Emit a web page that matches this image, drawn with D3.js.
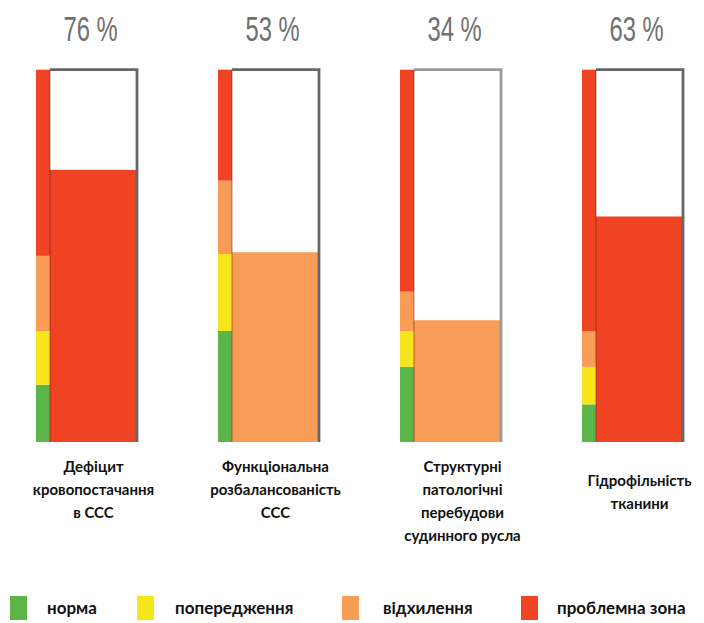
<!DOCTYPE html>
<html><head><meta charset="utf-8">
<script src="https://cdn.jsdelivr.net/npm/d3@7"></script>
<style>
html,body{margin:0;padding:0;background:#fff;}
svg{display:block;}
</style></head>
<body>
<svg id="chart" width="704" height="623"></svg>
<script>
// ---- data ----
const categories = ["Дефіцит кровопостачання в ССС", "Функціональна розбалансованість ССС", "Структурні патологічні перебудови судинного русла", "Гідрофільність тканини"];
const categoryLines = [["Дефіцит", "кровопостачання", "в ССС"], ["Функціональна", "розбалансованість", "ССС"], ["Структурні", "патологічні", "перебудови", "судинного русла"], ["Гідрофільність", "тканини"]];
const values = [76, 53, 34, 63];
// zone upper limits (percent) for each category scale
const normaTop = [16, 31, 21, 10.5];
const warningTop = [31, 52.5, 31, 21];
const deviationTop = [52, 73, 42, 31];
const zoneNames = ["норма", "попередження", "відхилення", "проблемна зона"];
const zoneColors = ["#5cb548", "#f6e51d", "#f89c56", "#ef4324"];
const scaleMax = 104;

const svg = d3.select("#chart");
const y = d3.scaleLinear().domain([0, 100]).range([442, 84]);
const x = d3.scaleBand().domain(categories).range([36, 36 + 182 * 4]).padding(0);
const stripW = 14, boxW = 87;

const g = svg.selectAll("g.gauge").data(categories).join("g").attr("class", "gauge")
  .attr("transform", d => `translate(${x(d)},0)`);

// zone strips
g.each(function(d, i) {
  const bounds = [0, normaTop[i], warningTop[i], deviationTop[i], scaleMax];
  const segs = zoneColors.map((c, k) => ({c, lo: bounds[k], hi: bounds[k + 1]}));
  d3.select(this).selectAll("rect.zone").data(segs).join("rect").attr("class", "zone")
    .attr("x", 0).attr("width", stripW)
    .attr("y", s => y(s.hi)).attr("height", s => y(s.lo) - y(s.hi))
    .attr("fill", s => s.c);
});

// fill
const fillColor = i => {
  const v = values[i];
  if (v > deviationTop[i]) return zoneColors[3];
  if (v > warningTop[i]) return zoneColors[2];
  if (v > normaTop[i]) return zoneColors[1];
  return zoneColors[0];
};
g.append("rect")
  .attr("x", stripW).attr("width", boxW)
  .attr("y", (d, i) => y(values[i])).attr("height", (d, i) => y(0) - y(values[i]))
  .attr("fill", (d, i) => fillColor(i));

// subtle divider between strip and box
g.append("line").attr("x1", stripW).attr("x2", stripW)
  .attr("y1", y(scaleMax)).attr("y2", y(0))
  .attr("stroke", "rgba(90,30,20,0.35)").attr("stroke-width", 1.5);

// box border: top and right
g.append("path")
  .attr("d", `M${stripW},${y(scaleMax)}H${stripW + boxW}V${y(0)}`)
  .attr("fill", "none").attr("stroke", (d, i) => i === 2 ? "#9a9a9a" : "#666").attr("stroke-width", 2.8);

// percent labels
g.append("text")
  .attr("transform", `translate(${stripW + boxW / 2 - 3},41) scale(0.68,1)`)
  .attr("text-anchor", "middle")
  .attr("font-family", "Liberation Sans, Arial, sans-serif")
  .attr("font-size", 35)
  .attr("fill", "#707070")
  .text((d, i) => values[i] + " %");

// category labels
g.each(function(d, i) {
  const lines = categoryLines[i];
  const start = lines.length === 2 ? 481 : 467;
  d3.select(this).append("text")
    .attr("text-anchor", "middle")
    .attr("font-family", "Lato, 'Open Sans', sans-serif")
    .attr("font-weight", "bold").attr("font-size", 15).attr("fill", "#111")
    .selectAll("tspan").data(lines).join("tspan")
    .attr("x", stripW + boxW / 2 + (i === 2 ? 5 : 0))
    .attr("y", (l, k) => start + k * 23 + 5)
    .text(l => l);
});

// legend
const legendX = [10, 137, 342, 521];
const legendTextX = [47, 175, 383, 557];
const lg = svg.selectAll("g.legend").data(zoneNames).join("g").attr("class", "legend");
lg.append("rect").attr("x", (d, i) => legendX[i]).attr("y", 596).attr("width", 17).attr("height", 24)
  .attr("fill", (d, i) => zoneColors[i]);
lg.append("text").attr("x", (d, i) => legendTextX[i]).attr("y", 614)
  .attr("font-family", "Lato, 'Open Sans', sans-serif")
  .attr("font-weight", "bold").attr("font-size", 17).attr("fill", "#111")
  .text(d => d);
</script>
</body></html>
